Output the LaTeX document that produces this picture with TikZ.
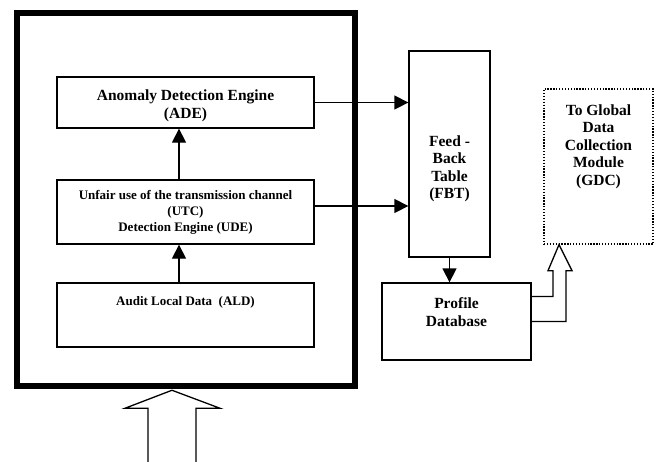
\documentclass[tikz,border=0pt]{standalone}
\usepackage{fontspec}
\setmainfont{Liberation Serif}
\usetikzlibrary{calc,arrows.meta}

\begin{document}
\begin{tikzpicture}[x=1pt,y=-1pt,>={Triangle[length=14pt,width=14pt]},
  box/.style={draw,line width=1.3pt,inner sep=0pt},
  big/.style={font=\fontsize{15.5}{17.5}\selectfont\bfseries,align=center},
  small/.style={font=\fontsize{13}{16}\selectfont\bfseries,align=center},
  hollow/.style={line width=1.3pt,line join=miter}]
  \useasboundingbox (0,0) rectangle (658,461);
  % local agent
  \node[draw,line width=6.5pt,minimum width=338pt,minimum height=373pt] (outer) at (186,199.5) {};
  \node[box,minimum width=257pt,minimum height=51pt,
    label={[big,yshift=-3.5pt]center:Anomaly Detection Engine\\(ADE)}] (ade) at (185.5,102.5) {};
  \node[box,minimum width=257pt,minimum height=64pt,
    label={[small]center:Unfair use of the transmission channel\\(UTC)\\Detection Engine (UDE)}] (ude) at (185.5,212) {};
  \node[box,minimum width=257pt,minimum height=64pt,
    label={[small,yshift=13pt]center:Audit Local Data~~(ALD)}] (ald) at (185.5,315) {};
  % right side
  \node[box,minimum width=81pt,minimum height=206pt,
    label={[big,yshift=-15pt]center:Feed -\\Back\\Table\\(FBT)}] (fbt) at (449.5,154) {};
  \node[box,minimum width=149pt,minimum height=77pt,
    label={[big,yshift=9.5pt]center:Profile\\Database}] (pdb) at (456.5,321.5) {};
  \node[draw,line width=1.3pt,dash pattern=on 1.3pt off 1.6pt,minimum width=109pt,minimum height=155pt,
    label={[big,yshift=20pt]center:To Global\\Data\\Collection\\Module\\(GDC)}] (gdc) at (598.5,166.5) {};

  \coordinate (udeOut) at ([yshift=6pt]ude.east);
  \draw[->,line width=1.3pt] ([xshift=-6.5pt]ald.north) -- ([xshift=-6.5pt]ude.south);
  \draw[->,line width=1.3pt] ([xshift=-6.5pt]ude.north) -- ([xshift=-6.5pt]ade.south);
  \draw[->,line width=1.3pt] (ade.east) -- (fbt.west |- ade.east);
  \draw[->,line width=1.3pt] (udeOut) -- (fbt.west |- udeOut);
  \draw[->,line width=1.3pt] (fbt.south) -- (fbt.south |- pdb.north);

  % hollow arrows
  \coordinate (gdcTip) at ([xshift=-39.5pt]gdc.south);
  \draw[hollow] ([yshift=25pt]pdb.east) -| ([xshift=-6pt,yshift=-26pt]gdcTip)
    -- ++(-5,0) -- (gdcTip) -- ++(13,26) -- ++(-6,0) |- (pdb.east);
  \coordinate (inTip) at ([xshift=-14pt,yshift=-1pt]outer.south);
  \draw[hollow] (inTip) ++(-24,74) -- ++(0,-56) -- ++(-23,0) -- (inTip)
    -- ++(48,18) -- ++(-24,0) -- ++(0,56);
\end{tikzpicture}
\end{document}
